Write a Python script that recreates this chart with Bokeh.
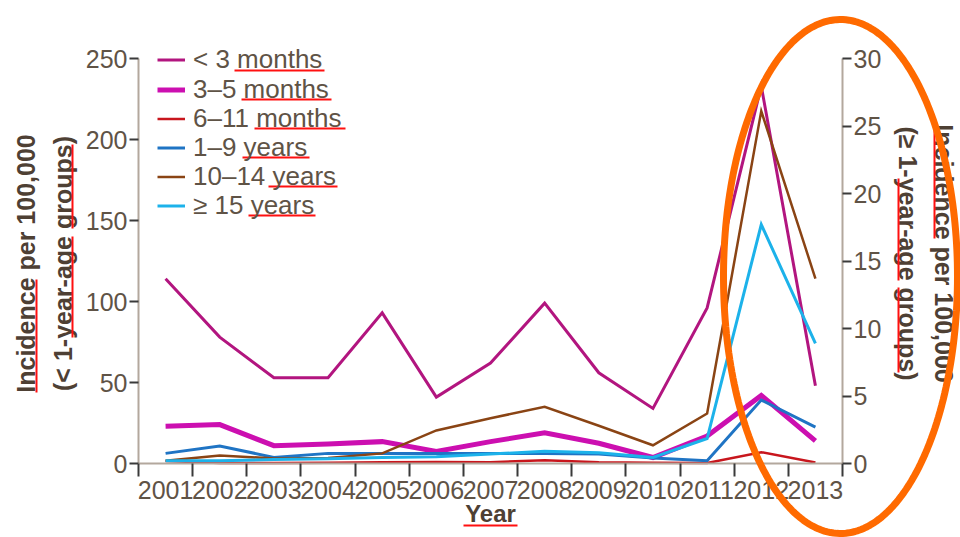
import numpy as np
from bokeh.plotting import figure
from bokeh.models import (Range1d, LinearAxis, FixedTicker, Legend, LegendItem,
                          Label, BoxAnnotation, PolyAnnotation)
from bokeh.embed import file_html
from bokeh.resources import INLINE

# ---- data -------------------------------------------------------------
years = [2001, 2002, 2003, 2004, 2005, 2006, 2007, 2008, 2009, 2010, 2011, 2012, 2013]

# infants, incidence per 100,000 (left axis)
under_3_months = [114, 78, 53, 53, 93, 41, 62, 99, 56, 34, 96, 233, 48]
months_3_5 = [23, 24, 11, 12, 13.5, 7.5, 13.5, 19, 12.5, 3.7, 17, 42, 14]
months_6_11 = [1.5, 0.3, 0.3, 0.5, 0.8, 1.0, 0.8, 2.0, 0.8, 0.5, 0.3, 7.0, 0.6]

# older age groups, incidence per 100,000 (right axis)
years_1_9 = [0.75, 1.3, 0.45, 0.75, 0.75, 0.75, 0.75, 0.75, 0.7, 0.4, 0.2, 4.7, 2.7]
years_10_14 = [0.2, 0.6, 0.37, 0.4, 0.75, 2.45, 3.35, 4.2, 2.8, 1.35, 3.7, 26.1, 13.7]
years_15_plus = [0.2, 0.2, 0.3, 0.35, 0.45, 0.5, 0.7, 0.9, 0.8, 0.45, 1.85, 17.7, 8.9]

left_ticks = [0, 50, 100, 150, 200, 250]
right_ticks = [0, 5, 10, 15, 20, 25, 30]

# ---- layout -----------------------------------------------------------
# The plotting frame fills the whole canvas; the axes sit at fixed
# locations inside it, so titles and marks can go anywhere on the page.
W, H = 960, 537
AX_L, AX_R, AX_T, AX_B = 138, 842, 58, 463     # where the axes are drawn
x_lo, x_hi = years[0] - 0.5, years[-1] + 0.5
kx = (AX_R - AX_L) / (x_hi - x_lo)
ky_left = (AX_B - AX_T) / 250
ky_right = (AX_B - AX_T) / 30

x_range = Range1d(x_lo - AX_L / kx, x_hi + (W - AX_R) / kx)
y_range = Range1d(-(H - AX_B) / ky_left, AX_B / ky_left)
right_range = Range1d(-(H - AX_B) / ky_right, AX_B / ky_right)

FONT = "Liberation Sans"
TICK_TEXT = "#5f5346"
TITLE_TEXT = "#4e4034"
AXIS_LINE = "#b3a89d"
TICK_LINE = "#3a3a3a"

p = figure(width=W, height=H, output_backend="svg", toolbar_location=None,
           x_range=x_range, y_range=y_range,
           min_border_left=0, min_border_right=0,
           min_border_top=0, min_border_bottom=0)
p.title.visible = False
p.extra_y_ranges = {"right": right_range}
p.outline_line_color = None
p.grid.visible = False
p.background_fill_color = "white"
p.border_fill_color = "white"

# ---- series -----------------------------------------------------------
series = [
    ("< 3 months", under_3_months, "#b2157f", 3, "default"),
    ("3\u20135 months", months_3_5, "#cc0fb0", 5, "default"),
    ("6\u201311 months", months_6_11, "#c8161d", 2.5, "default"),
    ("1\u20139 years", years_1_9, "#1f74c4", 3, "right"),
    ("10\u201314 years", years_10_14, "#8a4414", 2.5, "right"),
    ("\u2265 15 years", years_15_plus, "#1cb2ea", 3, "right"),
]
renderers = []
for name, vals, color, lw, rng in series:
    r = p.line(years, vals, line_color=color, line_width=lw, y_range_name=rng,
               line_join="miter")
    renderers.append((name, r))

# legend: one row per entry, rows 29.2 px apart starting at y = 60
ROW_PITCH, FIRST_ROW, TEXT_H = 29.2, 60, 31
LEG_X = 157
for i, (name, r) in enumerate(renderers):
    centre = FIRST_ROW + ROW_PITCH * i
    p.add_layout(Legend(items=[LegendItem(label=name, renderers=[r])],
                        location=(LEG_X, round(H - centre - TEXT_H / 2)),
                        margin=0, padding=0, spacing=0, glyph_width=28,
                        glyph_height=29, label_height=29, label_standoff=8,
                        label_text_font=FONT, label_text_font_size="26px",
                        label_text_color=TICK_TEXT,
                        background_fill_alpha=0, border_line_alpha=0))


def style_axis(ax):
    ax.axis_line_color = AXIS_LINE
    ax.axis_line_width = 2
    ax.major_tick_line_color = TICK_LINE
    ax.major_tick_line_width = 2
    ax.major_tick_in = 0
    ax.major_label_text_font = FONT
    ax.major_label_text_font_size = "25px"
    ax.major_label_text_color = TICK_TEXT


# left axis
yl = p.yaxis[0]
style_axis(yl)
yl.fixed_location = x_lo
yl.ticker = FixedTicker(ticks=left_ticks)
yl.bounds = (0, 250)
yl.major_tick_out = 9
yl.minor_tick_line_color = None
yl.major_label_standoff = 2

# right axis
yr = LinearAxis(y_range_name="right", ticker=FixedTicker(ticks=right_ticks),
                bounds=(0, 30), fixed_location=x_hi)
style_axis(yr)
yr.major_tick_out = 9
yr.minor_tick_line_color = None
yr.major_label_standoff = 2
p.add_layout(yr, "right")

# bottom axis: labels at the years, ticks between them
xa = p.xaxis[0]
style_axis(xa)
xa.fixed_location = 0
xa.bounds = (x_lo, x_hi)
xa.ticker = FixedTicker(ticks=years, minor_ticks=[y - 0.5 for y in years] + [x_hi])
xa.major_tick_out = 0
xa.minor_tick_in = 0
xa.minor_tick_out = 13
xa.minor_tick_line_color = TICK_LINE
xa.minor_tick_line_width = 2
xa.major_label_standoff = 4


# ---- titles and marks placed in page pixels (origin top-left) ----------
def sy(y):
    return H - y


def title(text, x, y, angle, size="25px"):
    p.add_layout(Label(x=x, y=sy(y), x_units="screen", y_units="screen",
                       text=text, angle=angle, text_align="center",
                       text_baseline="middle", text_font=FONT,
                       text_font_style="bold", text_font_size=size,
                       text_color=TITLE_TEXT))


title("Incidence per 100,000", 25, 263, np.pi / 2)
title("(< 1-year-age groups)", 62, 263, np.pi / 2)
title("Incidence per 100,000", 943, 253, -np.pi / 2)
title("(\u2265 1-year-age groups)", 907, 253, -np.pi / 2)
title("Year", 490, 513, 0, "24px")


def underline(x0, x1, y0, y1):
    p.add_layout(BoxAnnotation(left=x0, right=x1, top=sy(y0), bottom=sy(y1),
                               left_units="screen", right_units="screen",
                               top_units="screen", bottom_units="screen",
                               fill_color="#ff1010", fill_alpha=1,
                               line_color=None, level="overlay"))


# spell-check marks under words in the legend and titles
for x0, x1, y in [(234, 324, 69), (241, 331, 98), (254, 345, 127),
                  (242, 309, 156), (268, 337, 185), (248, 315, 214),
                  (463, 517, 524)]:
    underline(x0, x1, y, y + 2)
for x, y0, y1 in [(35, 279, 392), (71, 236, 337), (71, 144, 228),
                  (933, 124, 238), (897, 178, 280), (897, 287, 372)]:
    underline(x, x + 2, y0, y1)

# orange ring around the 2012 peak
t = np.linspace(0, 2 * np.pi, 240)
cx, cy, rx, ry = 840, 276, 117, 257
p.add_layout(PolyAnnotation(xs=list(cx + rx * np.cos(t)), ys=list(sy(cy + ry * np.sin(t))),
                            xs_units="screen", ys_units="screen",
                            fill_alpha=0, line_color="#ff6a00", line_alpha=1,
                            line_width=7, level="overlay"))

open("out.html", "w").write(file_html(p, INLINE))
